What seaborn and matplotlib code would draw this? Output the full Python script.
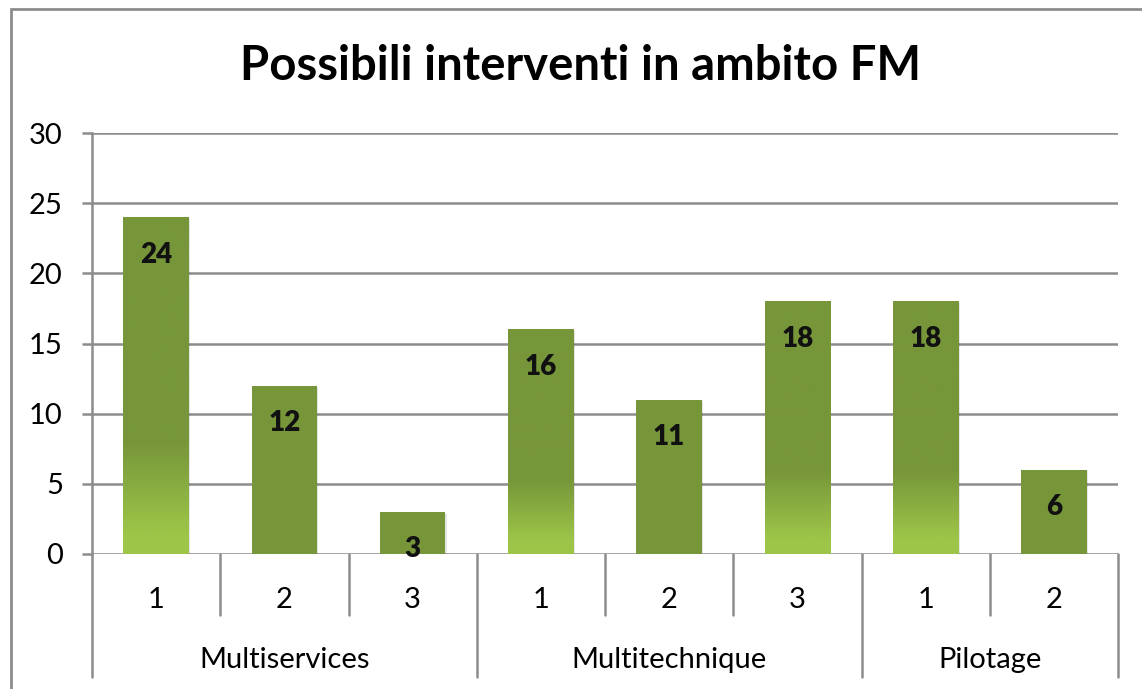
import numpy as np
import pandas as pd
import matplotlib.pyplot as plt
import matplotlib.transforms as mtransforms
from matplotlib.colors import LinearSegmentedColormap
from matplotlib.patches import Rectangle
import seaborn as sns

# data
groups = ["Multiservices", "Multiservices", "Multiservices",
          "Multitechnique", "Multitechnique", "Multitechnique",
          "Pilotage", "Pilotage"]
sub_labels = ["1", "2", "3", "1", "2", "3", "1", "2"]
values = [24, 12, 3, 16, 11, 18, 18, 6]
y_ticks = [0, 5, 10, 15, 20, 25, 30]
title = "Possibili interventi in ambito FM"

# style
dark_green = "#77963a"
light_green = "#9dc548"
grid_grey = "#8c8c8c"
with_gradient = [True, False, False, True, False, True, True, False]

df = pd.DataFrame({"gruppo": groups, "sub": sub_labels, "valore": values})
df["key"] = df["gruppo"] + " " + df["sub"]

sns.set_theme(style="white")
plt.rcParams["font.family"] = ["Lato", "DejaVu Sans"]
plt.rcParams["text.color"] = "black"
plt.rcParams["ytick.color"] = "black"

fig = plt.figure(figsize=(11.42, 6.89), dpi=100)
ax = fig.add_axes([92 / 1142, 1 - 554 / 689, (1118 - 92) / 1142, (554 - 133) / 689])

sns.barplot(data=df, x="key", y="valore", order=list(df["key"]), color=dark_green,
            width=0.51, saturation=1, ax=ax, zorder=3, linewidth=0)

ax.set_ylim(0, 30)
ax.set_xlim(-0.5, len(values) - 0.5)
ax.set_yticks(y_ticks)
ax.set_yticklabels([str(t) for t in y_ticks], fontsize=21, color="black")
ax.tick_params(axis="y", length=7, width=1.8, color=grid_grey, pad=14, left=True)
ax.set_xticks([])
ax.set_xlabel("")
ax.set_ylabel("")
for t in y_ticks:
    ax.axhline(t, color=grid_grey, lw=1.8, zorder=1)
for s in ["top", "right", "bottom"]:
    ax.spines[s].set_visible(False)
ax.spines["left"].set_color(grid_grey)
ax.spines["left"].set_linewidth(1.8)
ax.spines["left"].set_bounds(0, 30)

# gradient on some bars
cmap = LinearSegmentedColormap.from_list("g", [(0, light_green), (0.06, light_green),
                                               (0.33, dark_green), (1, dark_green)])
grad = np.linspace(0, 1, 256).reshape(-1, 1)
for patch, flag in zip(ax.patches, with_gradient):
    x0, y0 = patch.get_x(), patch.get_y()
    w, h = patch.get_width(), patch.get_height()
    # soft shadow
    ax.add_patch(Rectangle((x0 + 0.01, y0 - 0.12), w, h, color="black", alpha=0.10,
                           zorder=2, lw=0))
    if flag:
        im = ax.imshow(grad, extent=[x0, x0 + w, y0, y0 + h], origin="lower",
                       cmap=cmap, aspect="auto", zorder=4)
        im.set_clip_path(patch)

# value labels
for i, v in enumerate(values):
    ax.annotate(str(v), (i, v), xytext=(0, -27), textcoords="offset points",
                ha="center", va="center", fontsize=20, fontweight="heavy",
                color="#111111", zorder=6)

# two-level category axis
trans = mtransforms.blended_transform_factory(ax.transData, ax.transAxes)
for i in range(len(values) + 1):
    x = i - 0.5
    is_group_edge = i == 0 or i == len(values) or groups[i] != groups[i - 1]
    y_end = -0.292 if is_group_edge else -0.145
    ax.plot([x, x], [0, y_end], color=grid_grey, lw=1.8, transform=trans, clip_on=False)
for i, s in enumerate(sub_labels):
    ax.text(i, -0.109, s, ha="center", va="center", fontsize=21, transform=trans)
for g in dict.fromkeys(groups):
    idx = [i for i, gg in enumerate(groups) if gg == g]
    ax.text(np.mean(idx), -0.252, g, ha="center", va="center", fontsize=21, transform=trans)

# chart border and title
fig.patches.append(Rectangle((11 / 1142, -0.1), 1.2, 1 - 9 / 689 + 0.1, fill=False,
                             edgecolor=grid_grey, lw=2, transform=fig.transFigure))
fig.text(580 / 1142, 1 - 66 / 689, title, ha="center", va="center",
         fontsize=34, fontweight="bold", color="black")

fig.savefig("out.png", dpi=100)
